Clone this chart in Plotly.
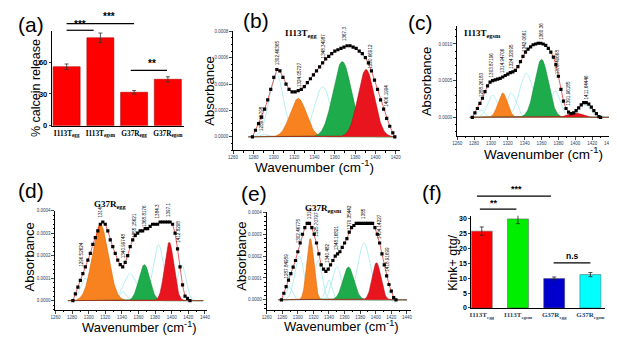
import numpy as np
import plotly.graph_objects as go

W, H = 617, 337

# ---------------- bar data ----------------
bar_labels = ["I113T<sub>egg</sub>", "I113T<sub>egsm</sub>", "G37R<sub>egg</sub>", "G37R<sub>egsm</sub>"]
calcein_release = [55.6, 82.8, 31.6, 43.8]
calcein_err = [2.6, 4.5, 1.6, 2.4]
kink_gtg = [25.8, 29.9, 9.9, 11.2]
kink_err = [1.4, 1.6, 0.5, 0.7]
kink_colors = ["#ff0000", "#00ee00", "#0000cc", "#00ffff"]

# ---------------- spectra: measured points ----------------
wn_b = [1279, 1282, 1285, 1288, 1291, 1294, 1297, 1300, 1303, 1306, 1309, 1312, 1315, 1318, 1321, 1324,
        1327, 1330, 1333, 1336, 1339, 1342, 1345, 1348, 1351, 1354, 1357, 1360, 1363, 1366, 1369, 1372,
        1375, 1378, 1381, 1384, 1387, 1390, 1393, 1396, 1399, 1402, 1405, 1408, 1411, 1414, 1417, 1419]
abs_b = [0.0, 0.00005, 0.00010, 0.00015, 0.00021, 0.00028, 0.00036, 0.00045, 0.00051, 0.00050, 0.00045,
         0.00040, 0.00036, 0.00034, 0.00034, 0.00035, 0.00036, 0.00038, 0.00041, 0.00044, 0.00047, 0.00050,
         0.00053, 0.00056, 0.00059, 0.00061, 0.00063, 0.00065, 0.00066, 0.00067, 0.00068, 0.00069, 0.00069,
         0.00068, 0.00067, 0.00065, 0.00063, 0.00060, 0.00056, 0.00050, 0.00043, 0.00036, 0.00028, 0.00021,
         0.00014, 0.00008, 0.00003, 0.0]

wn_c = [1278, 1281, 1284, 1287, 1290, 1293, 1296, 1299, 1302, 1305, 1308, 1311, 1314, 1317, 1320, 1323,
        1326, 1329, 1332, 1335, 1338, 1341, 1344, 1347, 1350, 1353, 1356, 1359, 1362, 1365, 1368, 1371,
        1374, 1377, 1380, 1383, 1386, 1389, 1392, 1395, 1398, 1401, 1404, 1407, 1410, 1413, 1416, 1419,
        1422, 1425, 1428, 1430]
abs_c = [0.0, 0.00006, 0.00012, 0.00019, 0.00026, 0.00035, 0.00043, 0.00048, 0.00050, 0.00051, 0.00052,
         0.00053, 0.00055, 0.00057, 0.00059, 0.00061, 0.00062, 0.00064, 0.00069, 0.00076, 0.00083, 0.00089,
         0.00093, 0.00096, 0.00099, 0.00100, 0.00101, 0.00101, 0.00100, 0.00098, 0.00094, 0.00089, 0.00082,
         0.00072, 0.00056, 0.00038, 0.00022, 0.00012, 0.00007, 0.00005, 0.00006, 0.00009, 0.00013, 0.00017,
         0.00020, 0.00020, 0.00018, 0.00014, 0.00009, 0.00005, 0.00001, 0.0]

wn_d = [1281, 1284, 1287, 1290, 1293, 1296, 1299, 1302, 1305, 1308, 1311, 1314, 1317, 1320, 1323, 1326,
        1329, 1332, 1335, 1338, 1341, 1344, 1347, 1350, 1353, 1356, 1359, 1362, 1365, 1368, 1371, 1374,
        1377, 1380, 1383, 1386, 1389, 1392, 1395, 1398, 1401, 1404, 1407, 1410, 1413, 1416, 1419, 1422]
abs_d = [0.0, 0.00003, 0.00006, 0.00009, 0.00012, 0.00015, 0.00018, 0.00021, 0.00025, 0.00028, 0.00031,
         0.00034, 0.00035, 0.00034, 0.00031, 0.00027, 0.00024, 0.00021, 0.00018, 0.00016, 0.00015, 0.00017,
         0.00020, 0.00024, 0.00027, 0.00029, 0.00030, 0.00031, 0.00031, 0.00032, 0.00032, 0.00033, 0.00034,
         0.00034, 0.00034, 0.00035, 0.00035, 0.00035, 0.00035, 0.00035, 0.00034, 0.00030, 0.00023, 0.00015,
         0.00007, 0.00002, 0.00001, 0.0]

wn_e = [1279, 1282, 1285, 1288, 1291, 1294, 1297, 1300, 1303, 1306, 1309, 1312, 1315, 1318, 1321, 1324,
        1327, 1330, 1333, 1336, 1339, 1342, 1345, 1348, 1351, 1354, 1357, 1360, 1363, 1366, 1369, 1372,
        1375, 1378, 1381, 1384, 1387, 1390, 1393, 1396, 1399, 1402, 1405, 1408, 1411, 1414, 1417, 1420,
        1423, 1426]
abs_e = [0.0, 0.00003, 0.00006, 0.00009, 0.00012, 0.00015, 0.00018, 0.00022, 0.00026, 0.00030, 0.00033,
         0.00035, 0.00035, 0.00033, 0.00030, 0.00026, 0.00021, 0.00016, 0.00014, 0.00013, 0.00014, 0.00016,
         0.00018, 0.00020, 0.00021, 0.00022, 0.00024, 0.00026, 0.00028, 0.00031, 0.00033, 0.00034, 0.00035,
         0.00035, 0.00035, 0.00035, 0.00035, 0.00035, 0.00035, 0.00035, 0.00033, 0.00030, 0.00026, 0.00021,
         0.00016, 0.00011, 0.00007, 0.00004, 0.00001, 0.0]

# ---------------- fitted gaussian bands: (centre, height, sigma, kind) ----------------
bands_b = [(1290, 0.00002, 3, "c"), (1302.5, 0.00048, 7, "c"), (1324, 0.00029, 8, "o"),
           (1348, 0.00038, 8, "c"), (1367.3, 0.00057, 9, "g"), (1390.7, 0.00051, 8, "r"),
           (1406, 0.00001, 3, "c")]
bands_c = [(1288, 0.00010, 4, "c"), (1302, 0.00030, 6, "c"), (1314, 0.00033, 5.5, "o"),
           (1324, 0.00033, 6, "c"), (1342, 0.00060, 8, "c"), (1360, 0.00079, 8, "g"),
           (1376, 0.00036, 6, "c"), (1400, 0.00006, 8, "r"), (1412, 0.00017, 6, "c")]
bands_d = [(1296, 0.00010, 6, "c"), (1314, 0.00034, 9.5, "o"), (1341, 0.00004, 4, "c"),
           (1350, 0.00012, 8, "c"), (1367, 0.00016, 6.5, "g"), (1384, 0.00025, 6.5, "c"),
           (1397, 0.00026, 5.5, "r"), (1412, 0.00016, 5, "c")]
bands_e = [(1289, 0.00006, 4, "c"), (1302, 0.00020, 6, "c"), (1316, 0.00028, 4.5, "o"),
           (1326, 0.00018, 5, "c"), (1340, 0.00009, 4, "c"), (1350, 0.00015, 6, "c"),
           (1365, 0.00015, 7, "g"), (1385, 0.00026, 8, "c"), (1401, 0.00017, 5.5, "r"),
           (1418, 0.00004, 4, "c")]

# peak labels: (text, x, base y)
lab_b = [("1289.65798", 1288, 0.00003), ("1302.46365", 1304, 0.00053), ("1324.05727", 1326, 0.00036),
         ("1348.34987", 1349, 0.00058), ("1367.3", 1369, 0.00071), ("1390.66912", 1395, 0.00050),
         ("1406.1994", 1410, 0.00021)]
lab_c = [("1288.26183", 1289, 0.00025), ("1303.87196", 1301, 0.00052), ("1314.94706", 1314, 0.00058),
         ("1324.32095", 1324, 0.00063), ("1342.0661", 1340, 0.00086), ("1360.36", 1360, 0.00103),
         ("1376.40668", 1379, 0.00056), ("1391.96185", 1392, 0.00013), ("1411.64446", 1413, 0.00022)]
lab_d = [("1296.52624", 1291, 0.00014), ("1314", 1314, 0.00036), ("1340.99748", 1342, 0.00018),
         ("1355.15621", 1355, 0.00027), ("1368.8176", 1367, 0.00032), ("1384.3", 1383, 0.000355),
         ("1397.1", 1396, 0.000365), ("1412.8298", 1408, 0.00025)]
lab_e = [("1287.84989", 1286, 0.00009), ("1302.46775", 1301, 0.00025), ("1316", 1315, 0.00036),
         ("1325.70797", 1324, 0.00028), ("1340.482", 1339, 0.00016), ("1348.16821", 1349, 0.00022),
         ("1370.35442", 1366, 0.00031), ("1385", 1384, 0.00036), ("1404.14227", 1405, 0.00027),
         ("1418.91699", 1414, 0.00012)]

FILL = {"o": "#f7821f", "g": "#1eab4b", "r": "#e8141e"}
EDGE = {"o": "#d86a10", "g": "#148a38", "r": "#b80f18"}
CYAN = "#a6ecf0"


def xd(a, b):
    return [a / W, b / W]


def yd(top, bot):
    return [1 - bot / H, 1 - top / H]


fig = go.Figure()
annotations = []
shapes = []

SANS = "Arial, Liberation Sans, sans-serif"
SERIF = "Times New Roman, Liberation Serif, serif"


def spectrum(n, wn, ab, bands, labels, xrng):
    xa, ya = "x%d" % n, "y%d" % n
    grid = np.linspace(xrng[0] + 15, xrng[1] - 5, 400)
    for c, h, s, k in bands:
        g = h * np.exp(-((grid - c) ** 2) / (2 * s * s))
        if k == "c":
            fig.add_trace(go.Scatter(x=grid, y=g, mode="lines", line=dict(color=CYAN, width=0.8),
                                     xaxis=xa, yaxis=ya, hoverinfo="skip"))
    for c, h, s, k in bands:
        g = h * np.exp(-((grid - c) ** 2) / (2 * s * s))
        if k != "c":
            fig.add_trace(go.Scatter(x=grid, y=g, mode="lines", fill="tozeroy", fillcolor=FILL[k],
                                     line=dict(color=EDGE[k], width=0.6), xaxis=xa, yaxis=ya,
                                     hoverinfo="skip"))
    fig.add_trace(go.Scatter(x=wn, y=ab, mode="lines+markers",
                             line=dict(color="#e02020", width=0.7),
                             marker=dict(symbol="square", size=3.2, color="black"),
                             xaxis=xa, yaxis=ya))
    for t, x, y in labels:
        annotations.append(dict(text=t, x=x, y=y, xref=xa, yref=ya, textangle=-90, showarrow=False,
                                xanchor="center", yanchor="bottom",
                                font=dict(size=4.6, family=SANS, color="black")))


spectrum(2, wn_b, abs_b, bands_b, lab_b, [1260, 1424])
spectrum(3, wn_c, abs_c, bands_c, lab_c, [1260, 1446])
spectrum(4, wn_d, abs_d, bands_d, lab_d, [1260, 1443])
spectrum(5, wn_e, abs_e, bands_e, lab_e, [1260, 1445])

# bar panels
fig.add_trace(go.Bar(x=bar_labels, y=calcein_release, width=0.8,
                     marker=dict(color="#ff0000", line=dict(color="#b00000", width=0.6)),
                     error_y=dict(type="data", array=calcein_err, color="#333333", thickness=0.8, width=2),
                     xaxis="x", yaxis="y"))
fig.add_trace(go.Bar(x=bar_labels, y=kink_gtg, width=0.58,
                     marker=dict(color=kink_colors, line=dict(color="#555555", width=0.5)),
                     error_y=dict(type="data", array=kink_err, color="#222222", thickness=0.8, width=2),
                     xaxis="x6", yaxis="y6"))

spec_x = dict(showline=True, linecolor="black", linewidth=1, ticks="outside", ticklen=3, tickwidth=0.8,
              tickfont=dict(size=4.5, family=SANS), showgrid=False, zeroline=False, dtick=20, tick0=1260,
              minor=dict(ticks="outside", ticklen=1.5, tickwidth=0.6, dtick=10, tickcolor="black"))
spec_y = dict(showline=True, linecolor="black", linewidth=1, ticks="outside", ticklen=3, tickwidth=0.8,
              tickfont=dict(size=4.5, family=SANS), showgrid=False, zeroline=False, tickformat=".4f",
              minor=dict(ticks="outside", ticklen=1.5, tickwidth=0.6, tickcolor="black"))

bar_y = dict(showline=True, linecolor="black", linewidth=1, ticks="outside", ticklen=2, tickwidth=0.8,
             showgrid=False, zeroline=False)
bar_x = dict(showline=True, linecolor="black", linewidth=1, ticks="", showgrid=False, zeroline=False,
             tickangle=0, tickfont=dict(size=7.3, family=SERIF, color="black"))

ticktext_bold = ["<b>" + t + "</b>" for t in bar_labels]

fig.update_layout(
    width=W, height=H, margin=dict(l=0, r=0, t=0, b=0),
    paper_bgcolor="white", plot_bgcolor="white", showlegend=False,
    xaxis=dict(bar_x, domain=xd(39.3, 173.3), anchor="y", range=[-0.44, 3.48],
               tickvals=bar_labels, ticktext=ticktext_bold),
    yaxis=dict(bar_y, domain=yd(21.7, 118.3), anchor="x", range=[0, 89], tickvals=[0, 30, 60],
               tickfont=dict(size=7.5, family=SANS, color="black", weight="bold")),
    xaxis2=dict(spec_x, domain=xd(223, 392), anchor="y2", range=[1260, 1424]),
    yaxis2=dict(spec_y, domain=yd(21.7, 143), anchor="x2", range=[-0.0001, 0.0008], dtick=0.0002),
    xaxis3=dict(spec_x, domain=xd(450, 609), anchor="y3", range=[1260, 1446]),
    yaxis3=dict(spec_y, domain=yd(16, 128.3), anchor="x3", range=[-0.00025, 0.00125], dtick=0.0005),
    xaxis4=dict(spec_x, domain=xd(43, 197), anchor="y4", range=[1260, 1443]),
    yaxis4=dict(spec_y, domain=yd(205, 306), anchor="x4", range=[-0.00004, 0.0004], dtick=0.0001),
    xaxis5=dict(spec_x, domain=xd(257, 403), anchor="y5", range=[1260, 1445]),
    yaxis5=dict(spec_y, domain=yd(206.7, 306), anchor="x5", range=[-0.000045, 0.0004], dtick=0.0001),
    xaxis6=dict(bar_x, domain=xd(464.3, 600), anchor="y6", range=[-0.29, 3.41],
                tickvals=bar_labels, ticktext=ticktext_bold, tickfont=dict(size=7, family=SERIF)),
    yaxis6=dict(bar_y, domain=yd(210, 304.3), anchor="x6", range=[0, 31], dtick=5,
                tickfont=dict(size=7, family=SANS, color="black", weight="bold")),
)


def ann(text, px, py, size, family=SANS, angle=0, **kw):
    d = dict(text=text, x=px / W, y=1 - py / H, xref="paper", yref="paper", showarrow=False,
             xanchor="center", yanchor="middle", textangle=angle,
             font=dict(size=size, family=family, color="black"))
    d.update(kw)
    annotations.append(d)


def hline(x0, x1, py):
    shapes.append(dict(type="line", xref="paper", yref="paper", x0=x0 / W, x1=x1 / W,
                       y0=1 - py / H, y1=1 - py / H, line=dict(color="black", width=1.2)))


# panel letters
ann("(a)", 18, 15, 21)
ann("(b)", 246, 11, 21)
ann("(c)", 413, 13, 21)
ann("(d)", 18, 184, 21)
ann("(e)", 244, 187, 21)
ann("(f)", 425, 186, 21)

# panel titles
ann("<b>I113T<sub>egg</sub></b>", 292, 24, 9, SERIF)
ann("<b>I113T<sub>egsm</sub></b>", 476, 24, 9, SERIF)
ann("<b>G37R<sub>egg</sub></b>", 98, 199, 9, SERIF)
ann("<b>G37R<sub>egsm</sub></b>", 315, 203, 9, SERIF)

# axis titles
ann("% calcein release", 24, 80, 12.5, angle=-90)
ann("Absorbance", 199, 83, 13, angle=-90)
ann("Absorbance", 419, 73, 13, angle=-90)
ann("Absorbance", 17, 252, 13, angle=-90)
ann("Absorbance", 232, 251, 13, angle=-90)
ann("Wavenumber (cm<sup>-1</sup>)", 305, 159, 13.5)
ann("Wavenumber (cm<sup>-1</sup>)", 537, 146, 13.5)
ann("Wavenumber (cm<sup>-1</sup>)", 128, 324, 13)
ann("Wavenumber (cm<sup>-1</sup>)", 333, 323, 13)
ann("Kink+ gtg/", 445, 258, 12.5, angle=-90)

# significance brackets (a)
hline(54.3, 122.7, 14)
ann("<b>***</b>", 97, 7, 10)
hline(54.3, 81.7, 20.7)
ann("<b>***</b>", 68, 15, 10)
hline(119.3, 156, 61.7)
ann("<b>**</b>", 141, 55, 10)
# significance brackets (f)
hline(470, 545, 190)
ann("<b>***</b>", 510, 183, 9)
hline(473, 510, 203.3)
ann("<b>**</b>", 487, 197, 9)
hline(547.7, 585, 258.3)
ann("<b>n.s</b>", 567, 251, 8.5)

fig.update_layout(annotations=annotations, shapes=shapes)
fig.write_html("out.html")
